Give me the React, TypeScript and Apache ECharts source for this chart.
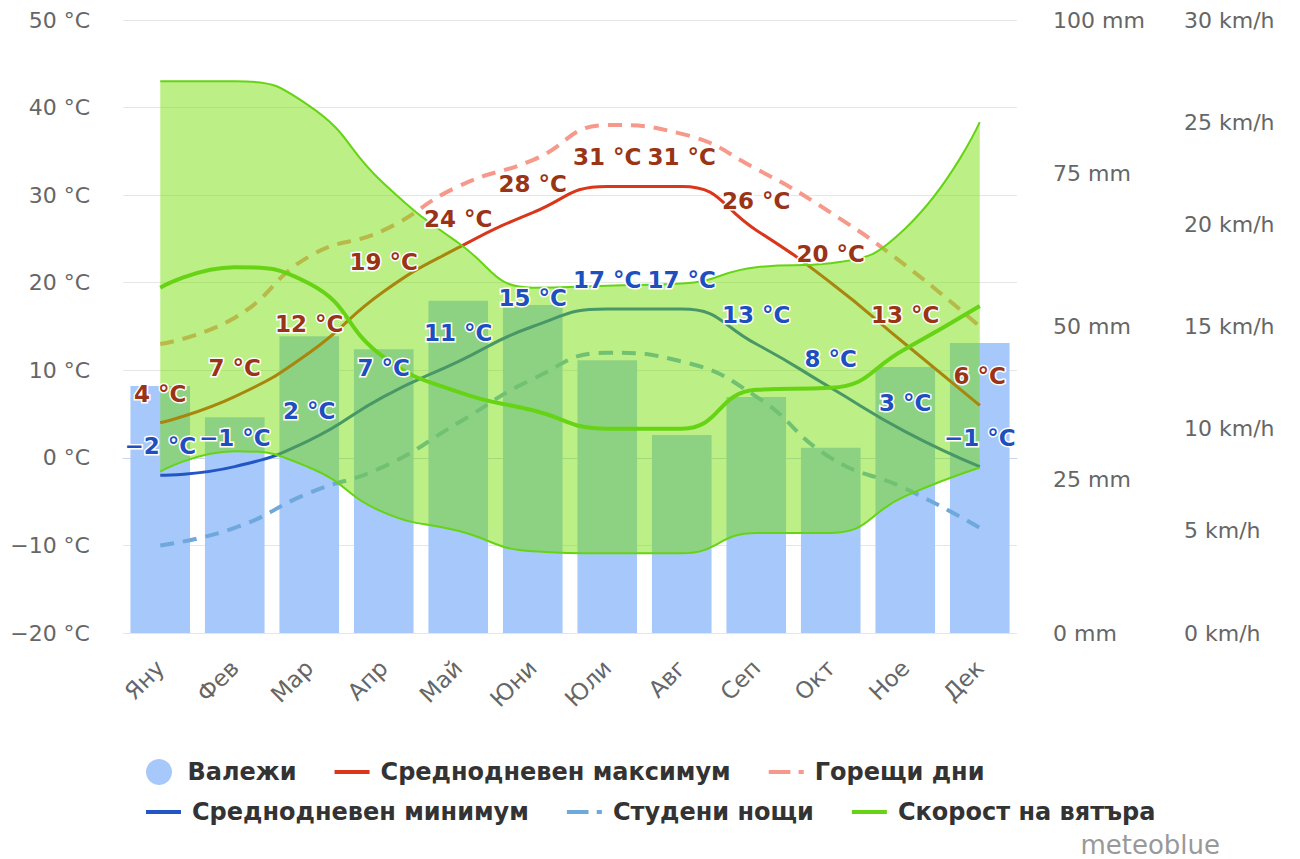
import React, { useEffect, useRef } from "react";
import * as echarts from "echarts";

const months = ["Яну", "Фев", "Мар", "Апр", "Май", "Юни", "Юли", "Авг", "Сеп", "Окт", "Ное", "Дек"];
const precipitation = [40.3, 35.2, 48.4, 46.3, 54.2, 53.5, 44.5, 32.3, 38.5, 30.2, 43.4, 47.3];
const tempMax = [4, 7, 12, 19, 24, 28, 31, 31, 26, 20, 13, 6];
const tempMin = [-2, -1, 2, 7, 11, 15, 17, 17, 13, 8, 3, -1];
const hotDays = [13, 16, 23, 26, 31, 34, 38, 37, 33, 28, 22, 15];
const coldNights = [-10, -8, -4, -1, 4, 9, 12, 11, 7, 0, -3.5, -8];
const windMean = [16.9, 17.9, 17.1, 13.5, 11.8, 10.9, 10, 10, 11.9, 12, 13.9, 16];
const windHigh = [27, 27, 25.8, 22, 19.1, 16.9, 17, 17.1, 17.9, 18.1, 19.8, 25];
const windLow = [7.9, 8.9, 8.1, 5.9, 5, 4, 3.9, 3.9, 4.9, 4.9, 6.7, 8.1];

const FONT = "DejaVu Sans";
const fmtT = (v: number) => (v < 0 ? "\u2212" + Math.abs(v) : String(v)) + " °C";

const LINE_ICON = "path://M0,0L35,0L35,4L0,4Z";
const DASH_ICON = "path://M0,0L21,0L21,4L0,4Z M29,0L34,0L34,4L29,4Z";

export default function App() {
  const ref = useRef<HTMLDivElement>(null);
  useEffect(() => {
    if (!ref.current) return;
    const chart = echarts.init(ref.current, undefined, { renderer: "svg" });
    const windRange = windHigh.map((v, i) => +(v - windLow[i]).toFixed(2));
    const green = "#66d414";
    const legendText = { fontSize: 24, fontWeight: "bold", color: "#333", fontFamily: FONT, padding: [0, 0, 0, 6] };
    const labelBase = {
      show: true,
      position: "top",
      distance: 17,
      fontSize: 23,
      fontWeight: "bold",
      fontFamily: FONT,
      opacity: 1,
      textBorderColor: "#fff",
      textBorderWidth: 3,
      formatter: (p: any) => fmtT(p.value),
    };
    chart.setOption({
      animation: false,
      textStyle: { fontFamily: FONT },
      grid: { left: 123, right: 283, top: 20, bottom: 226, containLabel: false },
      legend: [
        {
          left: 146,
          top: 759,
          padding: 0,
          itemWidth: 35,
          itemHeight: 26,
          itemGap: 38,
          textStyle: legendText,
          data: [
            { name: "Валежи", icon: "circle" },
            { name: "Среднодневен максимум", icon: LINE_ICON },
            { name: "Горещи дни", icon: DASH_ICON },
          ],
        },
        {
          left: 146,
          top: 800,
          padding: 0,
          itemWidth: 35,
          itemHeight: 26,
          itemGap: 38,
          textStyle: legendText,
          data: [
            { name: "Среднодневен минимум", icon: LINE_ICON },
            { name: "Студени нощи", icon: DASH_ICON },
            { name: "Скорост на вятъра", icon: LINE_ICON },
          ],
        },
      ],
      xAxis: {
        type: "category",
        data: months,
        boundaryGap: true,
        axisLine: { lineStyle: { color: "#ccd6eb", width: 1 } },
        axisTick: { show: true, alignWithLabel: true, length: 20, lineStyle: { color: "#ccd6eb" } },
        axisLabel: { rotate: 45, fontSize: 23, color: "#666", margin: 31, fontFamily: FONT },
        splitLine: { show: false },
      },
      yAxis: [
        {
          type: "value",
          min: -20,
          max: 50,
          interval: 10,
          position: "left",
          axisLine: { show: false },
          axisTick: { show: false },
          axisLabel: { formatter: fmtT, fontSize: 22, color: "#666", margin: 33, fontFamily: FONT },
          splitLine: { lineStyle: { color: "#e6e6e6", width: 1 } },
        },
        {
          type: "value",
          min: 0,
          max: 100,
          interval: 25,
          position: "right",
          axisLine: { show: false },
          axisTick: { show: false },
          axisLabel: { formatter: "{value} mm", fontSize: 22, color: "#666", margin: 36, fontFamily: FONT },
          splitLine: { show: false },
        },
        {
          type: "value",
          min: 0,
          max: 30,
          interval: 5,
          position: "right",
          offset: 131,
          axisLine: { show: false },
          axisTick: { show: false },
          axisLabel: { formatter: "{value} km/h", fontSize: 22, color: "#666", margin: 36, fontFamily: FONT },
          splitLine: { show: false },
        },
      ],
      series: [
        {
          name: "Валежи",
          type: "bar",
          yAxisIndex: 1,
          data: precipitation,
          barWidth: "80%",
          itemStyle: { color: "#a6c8fa" },
          z: 1,
        },
        {
          name: "Среднодневен максимум",
          type: "line",
          yAxisIndex: 0,
          data: tempMax,
          smooth: true,
          symbol: "none",
          itemStyle: { color: "#d9361a" },
          lineStyle: { color: "#d9361a", width: 3 },
          z: 2,
        },
        {
          name: "Горещи дни",
          type: "line",
          yAxisIndex: 0,
          data: hotDays,
          smooth: true,
          symbol: "none",
          itemStyle: { color: "#f6998a" },
          lineStyle: { color: "#f6998a", width: 4, type: [14, 9] },
          z: 2,
        },
        {
          name: "Среднодневен минимум",
          type: "line",
          yAxisIndex: 0,
          data: tempMin,
          smooth: true,
          symbol: "none",
          itemStyle: { color: "#2256c4" },
          lineStyle: { color: "#2256c4", width: 3 },
          z: 2,
        },
        {
          name: "Студени нощи",
          type: "line",
          yAxisIndex: 0,
          data: coldNights,
          smooth: true,
          symbol: "none",
          itemStyle: { color: "#6fa8dc" },
          lineStyle: { color: "#6fa8dc", width: 4, type: [14, 9] },
          z: 2,
        },
        {
          name: "windLow",
          type: "line",
          yAxisIndex: 2,
          data: windLow,
          stack: "wind",
          smooth: true,
          symbol: "none",
          lineStyle: { color: green, width: 2 },
          z: 3,
          silent: true,
        },
        {
          name: "windRange",
          type: "line",
          yAxisIndex: 2,
          data: windRange,
          stack: "wind",
          smooth: true,
          symbol: "none",
          lineStyle: { color: green, width: 2 },
          areaStyle: { color: "rgba(115, 222, 0, 0.48)", opacity: 1 },
          z: 3,
          silent: true,
        },
        {
          name: "Скорост на вятъра",
          type: "line",
          yAxisIndex: 2,
          data: windMean,
          smooth: true,
          symbol: "none",
          itemStyle: { color: green },
          lineStyle: { color: green, width: 4 },
          z: 4,
        },
        {
          name: "maxLabels",
          type: "scatter",
          yAxisIndex: 0,
          data: tempMax,
          symbolSize: 1,
          itemStyle: { color: "rgba(0,0,0,0)", opacity: 1 },
          label: { ...labelBase, color: "#9a3416" },
          z: 10,
          silent: true,
        },
        {
          name: "minLabels",
          type: "scatter",
          yAxisIndex: 0,
          data: tempMin,
          symbolSize: 1,
          itemStyle: { color: "rgba(0,0,0,0)", opacity: 1 },
          label: { ...labelBase, color: "#1f4fbf" },
          z: 10,
          silent: true,
        },
      ],
      graphic: [
        {
          type: "text",
          right: 80,
          top: 832,
          style: { text: "meteoblue", fontSize: 26, fill: "#999", fontFamily: FONT },
        },
      ],
    });
    return () => chart.dispose();
  }, []);
  return <div ref={ref} style={{ position: "absolute", left: 0, top: 0, width: 1300, height: 859 }} />;
}
